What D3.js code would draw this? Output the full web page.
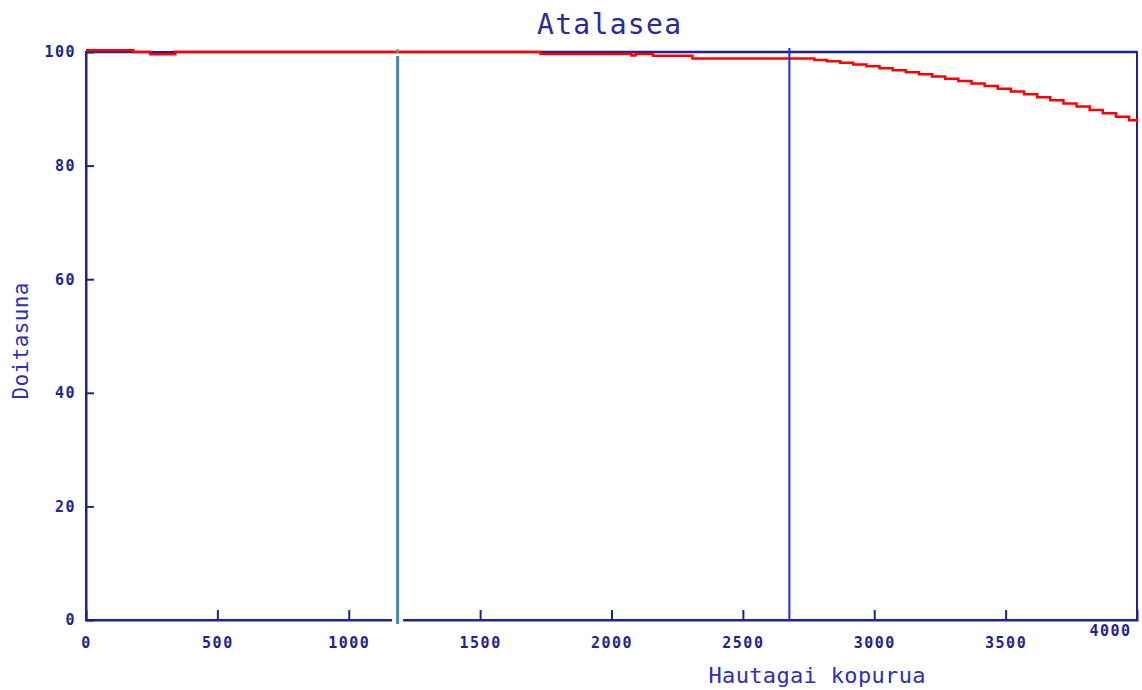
<!DOCTYPE html>
<html>
<head>
<meta charset="utf-8">
<script src="https://cdn.jsdelivr.net/npm/d3@7"></script>
<style>
  body { margin: 0; background: #fff; }
  text { font-family: "DejaVu Sans Mono", monospace; }
</style>
</head>
<body>
<div id="chart-area"></div>
<script>
// Data
const redX = [0, 180, 245, 340, 1730, 2076, 2091, 2158, 2308, 2772, 2820, 2870, 2920, 2970, 3020, 3070, 3120, 3170, 3220, 3270, 3320, 3370, 3420, 3470, 3520, 3570, 3620, 3670, 3720, 3770, 3820, 3870, 3920, 3970, 4000]
const redY = [100.3, 100, 99.6, 100, 99.65, 99.4, 99.65, 99.35, 98.85, 98.6, 98.35, 98.1, 97.8, 97.5, 97.15, 96.8, 96.45, 96.1, 95.7, 95.3, 94.9, 94.45, 94.0, 93.55, 93.05, 92.55, 92.05, 91.5, 90.95, 90.4, 89.8, 89.2, 88.6, 88.0, 87.6]
const blueX = [0, 180, 243, 332, 4000]
const blueY = [100, 100, 99.85, 100, 100]
const markers = [1186, 2677]
const xTicks = [0, 500, 1000, 1500, 2000, 2500, 3000, 3500, 4000]
const yTicks = [0, 20, 40, 60, 80, 100]

const canvas = { width: 1142, height: 690 }
const plot = { left: 86, right: 1137, top: 52, bottom: 620 }
const navy = '#22228e'

const svg = d3.select('#chart-area')
	.append('svg')
		.attr('width', canvas.width)
		.attr('height', canvas.height)

// Scales
const x = d3.scaleLinear().domain([0, 4000]).range([plot.left, plot.right])
const y = d3.scaleLinear().domain([0, 100]).range([plot.bottom, plot.top])

// Frame
svg.append('rect')
	.attr('x', plot.left)
	.attr('y', plot.top)
	.attr('width', plot.right - plot.left)
	.attr('height', plot.bottom - plot.top)
	.attr('fill', 'none')
	.attr('stroke', navy)
	.attr('stroke-width', 2)

// Axes (ticks point inwards)
const xAxis = d3.axisBottom(x).tickValues(xTicks).tickSize(-10).tickPadding(17).tickFormat(d => d)
const gx = svg.append('g')
	.attr('transform', `translate(0, ${plot.bottom})`)
	.call(xAxis)
gx.select('.domain').attr('stroke', navy).attr('stroke-width', 2)
gx.selectAll('.tick line').attr('stroke', navy).attr('stroke-width', 2)
	.filter(d => d === 0 || d === 4000).remove()
gx.selectAll('.tick text')
	.attr('fill', navy)
	.attr('font-size', 15)
	.attr('font-weight', 'bold')
	.attr('letter-spacing', 1.5)
	.attr('font-family', '"DejaVu Sans Mono", monospace')
	.filter(d => d === 4000)
	.attr('dx', -27)
	.attr('dy', '-0.1em')

const yAxis = d3.axisLeft(y).tickValues(yTicks).tickSize(-8).tickPadding(10).tickFormat(d => d)
const gy = svg.append('g')
	.attr('transform', `translate(${plot.left}, 0)`)
	.call(yAxis)
gy.select('.domain').attr('stroke', navy).attr('stroke-width', 2)
gy.selectAll('.tick line').attr('stroke', navy).attr('stroke-width', 2)
	.filter(d => d === 0 || d === 100).remove()
gy.selectAll('.tick text')
	.attr('fill', navy)
	.attr('font-size', 15)
	.attr('font-weight', 'bold')
	.attr('letter-spacing', 1.5)
	.attr('font-family', '"DejaVu Sans Mono", monospace')

// Series
const line = d3.line()
	.x(d => x(d[0]))
	.y(d => y(d[1]))
	.curve(d3.curveStepAfter)

svg.append('path')
	.datum(d3.zip(blueX, blueY))
	.attr('d', line)
	.attr('fill', 'none')
	.attr('stroke', navy)
	.attr('stroke-width', 2.5)

svg.append('path')
	.datum(d3.zip(redX, redY))
	.attr('d', line)
	.attr('fill', 'none')
	.attr('stroke', '#ff0000')
	.attr('stroke-width', 2.5)

// Marker lines
svg.append('line')
	.attr('x1', x(markers[0])).attr('x2', x(markers[0]))
	.attr('y1', plot.bottom - 14).attr('y2', plot.bottom + 4)
	.attr('stroke', '#fff')
	.attr('stroke-width', 11)
svg.append('line')
	.attr('x1', x(markers[0])).attr('x2', x(markers[0]))
	.attr('y1', y(100) + 4).attr('y2', plot.bottom + 4)
	.attr('stroke', '#4a84b2')
	.attr('stroke-width', 3)
svg.append('line')
	.attr('x1', x(markers[0])).attr('x2', x(markers[0]))
	.attr('y1', y(100) - 3).attr('y2', y(100) + 1)
	.attr('stroke', '#33cc33')
	.attr('stroke-width', 2)
svg.append('line')
	.attr('x1', x(markers[1])).attr('x2', x(markers[1]))
	.attr('y1', y(100) - 4).attr('y2', plot.bottom)
	.attr('stroke', '#2727f0')
	.attr('stroke-width', 2)

// Labels
svg.append('text')
	.attr('x', 609)
	.attr('y', 34)
	.attr('text-anchor', 'middle')
	.attr('font-size', 28)
	.attr('textLength', 144)
	.attr('fill', '#2a2a9e')
	.text('Atalasea')
svg.append('text')
	.attr('x', 817)
	.attr('y', 683)
	.attr('text-anchor', 'middle')
	.attr('font-size', 22)
	.attr('textLength', 217)
	.attr('fill', '#2e2eb8')
	.text('Hautagai kopurua')
svg.append('text')
	.attr('transform', 'translate(28, 341) rotate(-90)')
	.attr('text-anchor', 'middle')
	.attr('font-size', 21)
	.attr('textLength', 117)
	.attr('fill', '#2e2eb8')
	.text('Doitasuna')
</script>
</body>
</html>
